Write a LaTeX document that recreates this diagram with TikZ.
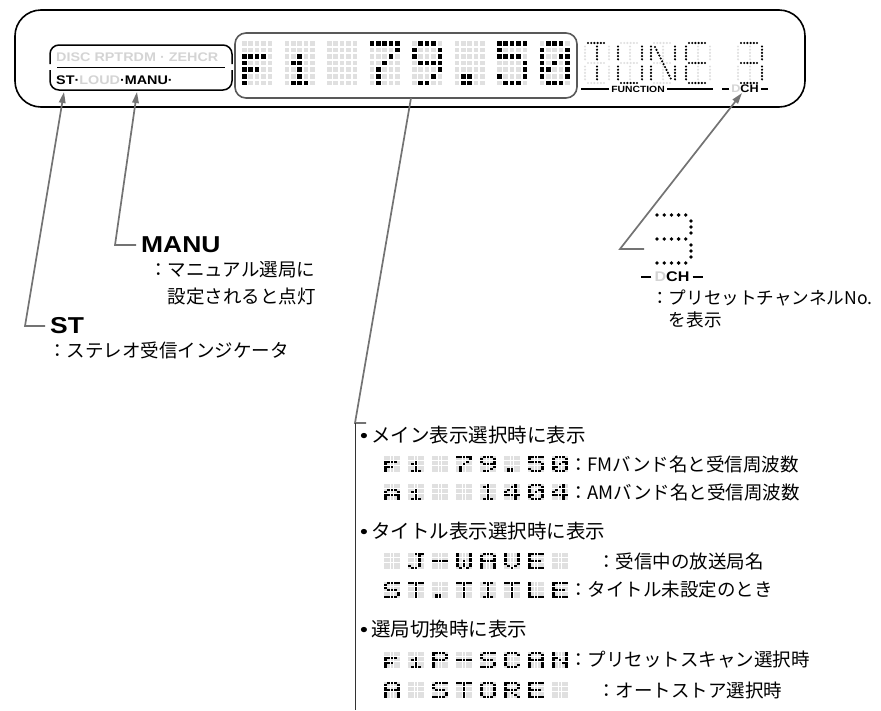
\documentclass[tikz,border=0pt]{standalone}
\usepackage{fontspec}
\setmainfont{Noto Sans CJK JP}
\newfontfamily\labfont[FakeStretch=1.15]{Liberation Sans}
\usetikzlibrary{calc,arrows.meta,positioning}

\definecolor{lcdoff}{gray}{0.88}
\definecolor{ledoff}{gray}{0.83}
\definecolor{leadgray}{gray}{0.45}

\newcommand{\defglyph}[2]{\expandafter\def\csname glyph#1\endcsname{#2}}
\defglyph{sp}{0,0,0,0,0,0,0}
\defglyph{f}{0,0,30,16,28,16,16}
\defglyph{i}{0,0,4,12,4,4,14}
\defglyph{a}{0,0,14,17,31,17,17}
\defglyph{dot}{0,0,0,0,0,12,12}
\defglyph{dash}{0,0,0,31,0,0,0}
\defglyph{0}{14,17,19,21,25,17,14}
\defglyph{1}{4,12,4,4,4,4,14}
\defglyph{4}{2,6,10,18,31,2,2}
\defglyph{5}{31,16,30,1,1,17,14}
\defglyph{7}{31,1,2,4,8,8,8}
\defglyph{9}{14,17,17,15,1,2,12}
\defglyph{A}{14,17,17,31,17,17,17}
\defglyph{C}{14,17,16,16,16,17,14}
\defglyph{E}{31,16,16,30,16,16,31}
\defglyph{I}{14,4,4,4,4,4,14}
\defglyph{J}{7,2,2,2,2,18,12}
\defglyph{L}{16,16,16,16,16,16,31}
\defglyph{N}{17,17,25,21,19,17,17}
\defglyph{O}{14,17,17,17,17,17,14}
\defglyph{P}{30,17,17,30,16,16,16}
\defglyph{R}{30,17,17,30,20,18,17}
\defglyph{S}{15,16,16,14,1,1,30}
\defglyph{T}{31,4,4,4,4,4,4}
\defglyph{V}{17,17,17,17,17,10,4}
\defglyph{W}{17,17,17,21,21,21,10}

\newcommand{\lcdsize}[4]{\gdef\lcdpx{#1}\gdef\lcdpy{#2}\gdef\lcddw{#3}\gdef\lcddh{#4}}
\newcommand{\lcdcell}[3]{%
  \expandafter\let\expandafter\lcdbits\csname glyph#3\endcsname
  \foreach \rowbits [count=\rr] in \lcdbits {
    \foreach \cc in {1,...,5} {
      \pgfmathtruncatemacro{\lit}{mod(floor(\rowbits/2^(5-\cc)),2)}
      \ifnum\lit=1 \def\dotcol{black}\else\def\dotcol{lcdoff}\fi
      \fill[\dotcol] ({#1+(\cc-1)*\lcdpx},{#2+(\rr-1)*\lcdpy}) rectangle ++(\lcddw,\lcddh);
    }
  }}
\newcommand{\lcdrow}[4]{\foreach \g [count=\k] in {#4} {\lcdcell{#1+(\k-1)*#3}{#2}{\g}}}

\newcommand{\segline}[3]{%
  \ifcase#3 \or
  \draw[#1] (#2+3,43) -- (#2+21,43);\or
  \draw[#1] (#2+24,46.5) -- (#2+24,59.5);\or
  \draw[#1] (#2+24,66.5) -- (#2+24,79.5);\or
  \draw[#1] (#2+3,83) -- (#2+21,83);\or
  \draw[#1] (#2,66.5) -- (#2,79.5);\or
  \draw[#1] (#2,46.5) -- (#2,59.5);\or
  \draw[#1] (#2+3,63) -- (#2+21,63);\or
  \draw[#1] (#2+12,46.5) -- (#2+12,59.5);\or
  \draw[#1] (#2+12,66.5) -- (#2+12,79.5);\or
  \draw[#1] (#2+4,47) -- (#2+20,79);\fi}
\newcommand{\segchar}[2]{%
  \foreach \s in {1,...,9} {\segline{segoff}{#1}{\s}}
  \foreach \s in {#2} {\segline{segon}{#1}{\s}}}

\newcommand{\bul}{{\labfont •}\hspace{3pt}}

\begin{document}
\begin{tikzpicture}[x=1pt,y=-1pt]
\path [use as bounding box] (0,0) rectangle (881,710);
\tikzstyle{segon} = [line width=2.4pt, line cap=round, dash pattern=on 0pt off 3.2pt]
\tikzstyle{segoff} = [segon, lcdoff]
\tikzstyle{callout} = [leadgray, line width=1.7pt, -{Triangle[length=11pt,width=6.5pt]}]
\tikzstyle{leadline} = [leadgray, line width=1.7pt]
\tikzstyle{boxtext} = [font=\labfont\bfseries\fontsize{12.5}{12.5}\selectfont, inner sep=0, anchor=west]
\tikzstyle{lab} = [font=\labfont\bfseries\fontsize{23}{23}\selectfont, inner sep=0, anchor=west]
\tikzstyle{desc} = [font=\fontsize{18.5}{20}\selectfont, inner sep=0, anchor=west]
\tikzstyle{head} = [font=\fontsize{19.5}{21}\selectfont, inner sep=0, anchor=west]
\tikzstyle{chtext} = [font=\labfont\bfseries\fontsize{11}{11}\selectfont, inner sep=0]
\draw[line width=1.6pt, rounded corners=26pt] (15,10) rectangle (805,107);
\draw[line width=1.5pt, rounded corners=9pt] (50,64) -- (50,45) -- (232,45) -- (232,64);
\draw[line width=1.5pt, rounded corners=9pt] (50,70) -- (50,90) -- (232,90) -- (232,70);
\draw[line width=1.6pt] (57,67.5) -- (225,67.5);
\node[boxtext, ledoff] (boxmodes) at (56,57) {DISC RPTRDM · ZEHCR};
\node[boxtext] (boxind) at (56,80) {ST·\textcolor{ledoff}{LOUD}·MANU·};
\node[draw=gray!70!black, line width=1.6pt, rounded corners=11pt, minimum width=342pt, minimum height=65pt, inner sep=0] (mainlcd) at (406,65.5) {};
\lcdsize{6.4}{6.6}{4.6}{4.6}
\lcdrow{242}{41}{42.5}{f,i,sp,7,9,dot,5,0}
\segchar{585}{1,8,9}
\segchar{618}{2,3,4,5,6}
\segchar{651}{2,3,5,6,10}
\segchar{686}{1,4,5,6,7}
\segchar{738}{1,2,3,4,7}
\node[chtext, font=\labfont\bfseries\fontsize{9}{9}\selectfont] (funclab) at (638,89) {FUNCTION};
\draw[line width=1.4pt] ($(funclab.west)+(-2,0)$) -- +(-28,0);
\draw[line width=1.4pt] ($(funclab.east)+(2,0)$) -- +(46,0);
\node[chtext] (chtop) at (745,89) {\textcolor{ledoff}{D}CH};
\draw[line width=1.8pt] ($(chtop.west)+(-2,0)$) -- +(-7,0);
\draw[line width=1.8pt] ($(chtop.east)+(2,0)$) -- +(7,0);
\foreach \i in {0,...,4} {
  \fill (657+\i*7.2,215) circle (1.9);
  \fill (657+\i*7.2,239) circle (1.9);
  \fill (657+\i*7.2,263) circle (1.9);
}
\foreach \j in {1,2,3} {
  \fill (691,215+\j*6) circle (1.9);
  \fill (691,239+\j*6) circle (1.9);
}
\node[chtext, font=\labfont\bfseries\fontsize{14}{14}\selectfont] (chbig) at (672,277) {\textcolor{ledoff}{D}CH};
\draw[line width=2.6pt] ($(chbig.west)+(-3,0)$) -- +(-10,0);
\draw[line width=2.6pt] ($(chbig.east)+(3,0)$) -- +(10,0);
\node[desc, font=\fontsize{17.6}{20}\selectfont] (chdesc) at (651,298) {：プリセットチャンネルNo.};
\node[desc, font=\fontsize{17.6}{20}\selectfont] (chdesc2) at (668.6,320) {を表示};
\node[lab] (manulab) at (141,245) {MANU};
\node[desc] (manudesc) at (149,270) {：マニュアル選局に};
\node[desc] (manudesc2) at (167.5,297) {設定されると点灯};
\node[lab] (stlab) at (50,326) {ST};
\node[desc] (stdesc) at (48,350) {：ステレオ受信インジケータ};
\coordinate (sttip) at (64,92);
\coordinate (manutip) at (137,92);
\coordinate (chtip) at (742,93);
\coordinate (stknee) at (25,326);
\coordinate (manuknee) at (115,245);
\coordinate (chknee) at (620,249);
\coordinate (chfoot) at (644,249);
\draw[callout, shorten <=5pt] (stlab.west) -- (stknee) -- (sttip);
\draw[callout, shorten <=5pt] (manulab.west) -- (manuknee) -- (manutip);
\draw[callout] (chfoot) -- (chknee) -- (chtip);
\coordinate (lcdfoot) at (411,98);
\coordinate (listtop) at (355,423);
\coordinate (listfoot) at (355,710);
\draw[leadline] (lcdfoot) -- (listtop) -- +(11,0);
\draw[line width=0.9pt, gray!40!black] (listtop) -- (listfoot);
\node[head] (mainhead) at (360,435) {\bul メイン表示選択時に表示};
\node[head] (titlehead) at (360,531) {\bul タイトル表示選択時に表示};
\node[head] (tunehead) at (360,629) {\bul 選局切換時に表示};
\lcdsize{3.3}{2.4}{2.6}{1.9}
\lcdrow{384}{456}{24}{f,i,sp,7,9,dot,5,0}
\lcdrow{384}{484}{24}{a,i,sp,sp,1,4,0,4}
\lcdrow{384}{553}{24}{sp,J,dash,W,A,V,E,sp}
\lcdrow{384}{582}{24}{S,T,dot,T,I,T,L,E}
\lcdrow{384}{652}{24}{f,i,P,dash,S,C,A,N}
\lcdrow{384}{682}{24}{A,sp,S,T,O,R,E,sp}
\node[desc] (fmdesc) at (569,464) {：FMバンド名と受信周波数};
\node[desc] (amdesc) at (569,492) {：AMバンド名と受信周波数};
\node[desc] (stationdesc) at (597,561) {：受信中の放送局名};
\node[desc] (notitledesc) at (569,590) {：タイトル未設定のとき};
\node[desc] (scandesc) at (569,660) {：プリセットスキャン選択時};
\node[desc] (storedesc) at (597,690) {：オートストア選択時};
\end{tikzpicture}
\end{document}
